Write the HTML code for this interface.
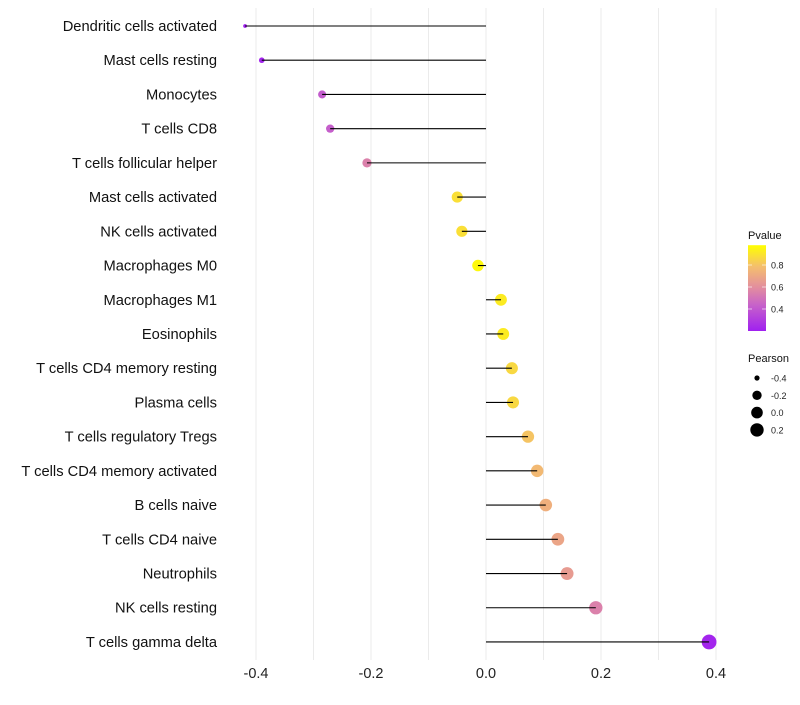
<!DOCTYPE html>
<html><head><meta charset="utf-8"><style>body{margin:0;background:#fff}svg text{font-family:"Liberation Sans",sans-serif}</style></head>
<body>
<svg id="chart" width="800" height="700"></svg>
<script>
const categories=["Dendritic cells activated","Mast cells resting","Monocytes","T cells CD8","T cells follicular helper","Mast cells activated","NK cells activated","Macrophages M0","Macrophages M1","Eosinophils","T cells CD4 memory resting","Plasma cells","T cells regulatory  Tregs ","T cells CD4 memory activated","B cells naive","T cells CD4 naive","Neutrophils","NK cells resting","T cells gamma delta"];
const pearson=[-0.419,-0.39,-0.285,-0.271,-0.207,-0.050,-0.042,-0.014,0.026,0.030,0.045,0.047,0.073,0.089,0.104,0.125,0.141,0.191,0.388];
const pvalue=[0.2,0.22,0.42,0.43,0.56,0.9,0.9,0.98,0.94,0.94,0.88,0.88,0.82,0.78,0.74,0.7,0.66,0.56,0.22];
const xTicks=[-0.4,-0.2,0,0.2,0.4];
const pTicks=[0.4,0.6,0.8];
const sizeLegend=[-0.4,-0.2,0.0,0.2];
const NS="http://www.w3.org/2000/svg";
const svg=document.getElementById('chart');
function X(v){return 486+v*575;}
function Y(i){return 26+i*34.22;}
function R(v){const f=Math.max(0,(v+0.42)/0.808);return 1.7+5.7*Math.sqrt(f);}
const stops=[[0.2,[160,32,240]],[0.45,[200,100,200]],[0.6,[226,140,160]],[0.8,[244,190,110]],[1.0,[255,255,0]]];
function C(p){p=Math.max(0.2,Math.min(1,p));for(let k=0;k<stops.length-1;k++){const a=stops[k],b=stops[k+1];if(p<=b[0]){const t=(p-a[0])/(b[0]-a[0]);return 'rgb('+a[1].map((c,j)=>Math.round(c+(b[1][j]-c)*t)).join(',')+')';}}return 'rgb(255,255,0)';}
function el(tag,attrs,parent){const e=document.createElementNS(NS,tag);for(const k in attrs)e.setAttribute(k,attrs[k]);(parent||svg).appendChild(e);return e;}
for(let v=-0.4;v<=0.41;v+=0.1){const g=el('line',{x1:X(v),x2:X(v),y1:8,y2:660,stroke:'#ebebeb','stroke-width':1});

}
xTicks.forEach(v=>{const t=el('text',{x:X(v),y:678,'text-anchor':'middle','font-size':14.5,fill:'#222'});t.textContent=(v===0?'0.0':v.toFixed(1));

});
categories.forEach((c,i)=>{
const t=el('text',{x:217,y:Y(i)+5,'text-anchor':'end','font-size':14.7,fill:'#111'});t.textContent=c;


const d=el('circle',{cx:X(pearson[i]),cy:Y(i),r:R(pearson[i]),fill:C(pvalue[i])});


const l=el('line',{x1:X(0),x2:X(pearson[i]),y1:Y(i),y2:Y(i),stroke:'#000','stroke-width':1.1});


});
const lt=el('text',{x:748,y:239,'font-size':11,fill:'#111'});lt.textContent='Pvalue';


const defs=el('defs',{});const lg=el('linearGradient',{id:'pg',x1:0,y1:1,x2:0,y2:0},defs);
for(let p=0.2;p<=1.001;p+=0.05){el('stop',{offset:((p-0.2)/0.8),'stop-color':C(p)},lg);}
function PY(p){return 331-(p-0.2)/0.2*22;}
const bar=el('rect',{x:748,y:PY(0.98),width:18,height:331-PY(0.98),fill:'url(#pg)'});


pTicks.forEach(p=>{el('line',{x1:748,x2:752,y1:PY(p),y2:PY(p),stroke:'#fff','stroke-opacity':0.6});el('line',{x1:762,x2:766,y1:PY(p),y2:PY(p),stroke:'#fff','stroke-opacity':0.6});
const t=el('text',{x:771,y:PY(p)+3.5,'font-size':9,fill:'#222'});t.textContent=p.toFixed(1);

});
const st=el('text',{x:748,y:362,'font-size':11,fill:'#111'});st.textContent='Pearson';


sizeLegend.forEach((v,k)=>{const y=378+k*17.3;const c=el('circle',{cx:757,cy:y,r:R(v),fill:'#000'});


const t=el('text',{x:771,y:y+3.5,'font-size':9,fill:'#222'});t.textContent=v.toFixed(1);

});
</script>
</body></html>
